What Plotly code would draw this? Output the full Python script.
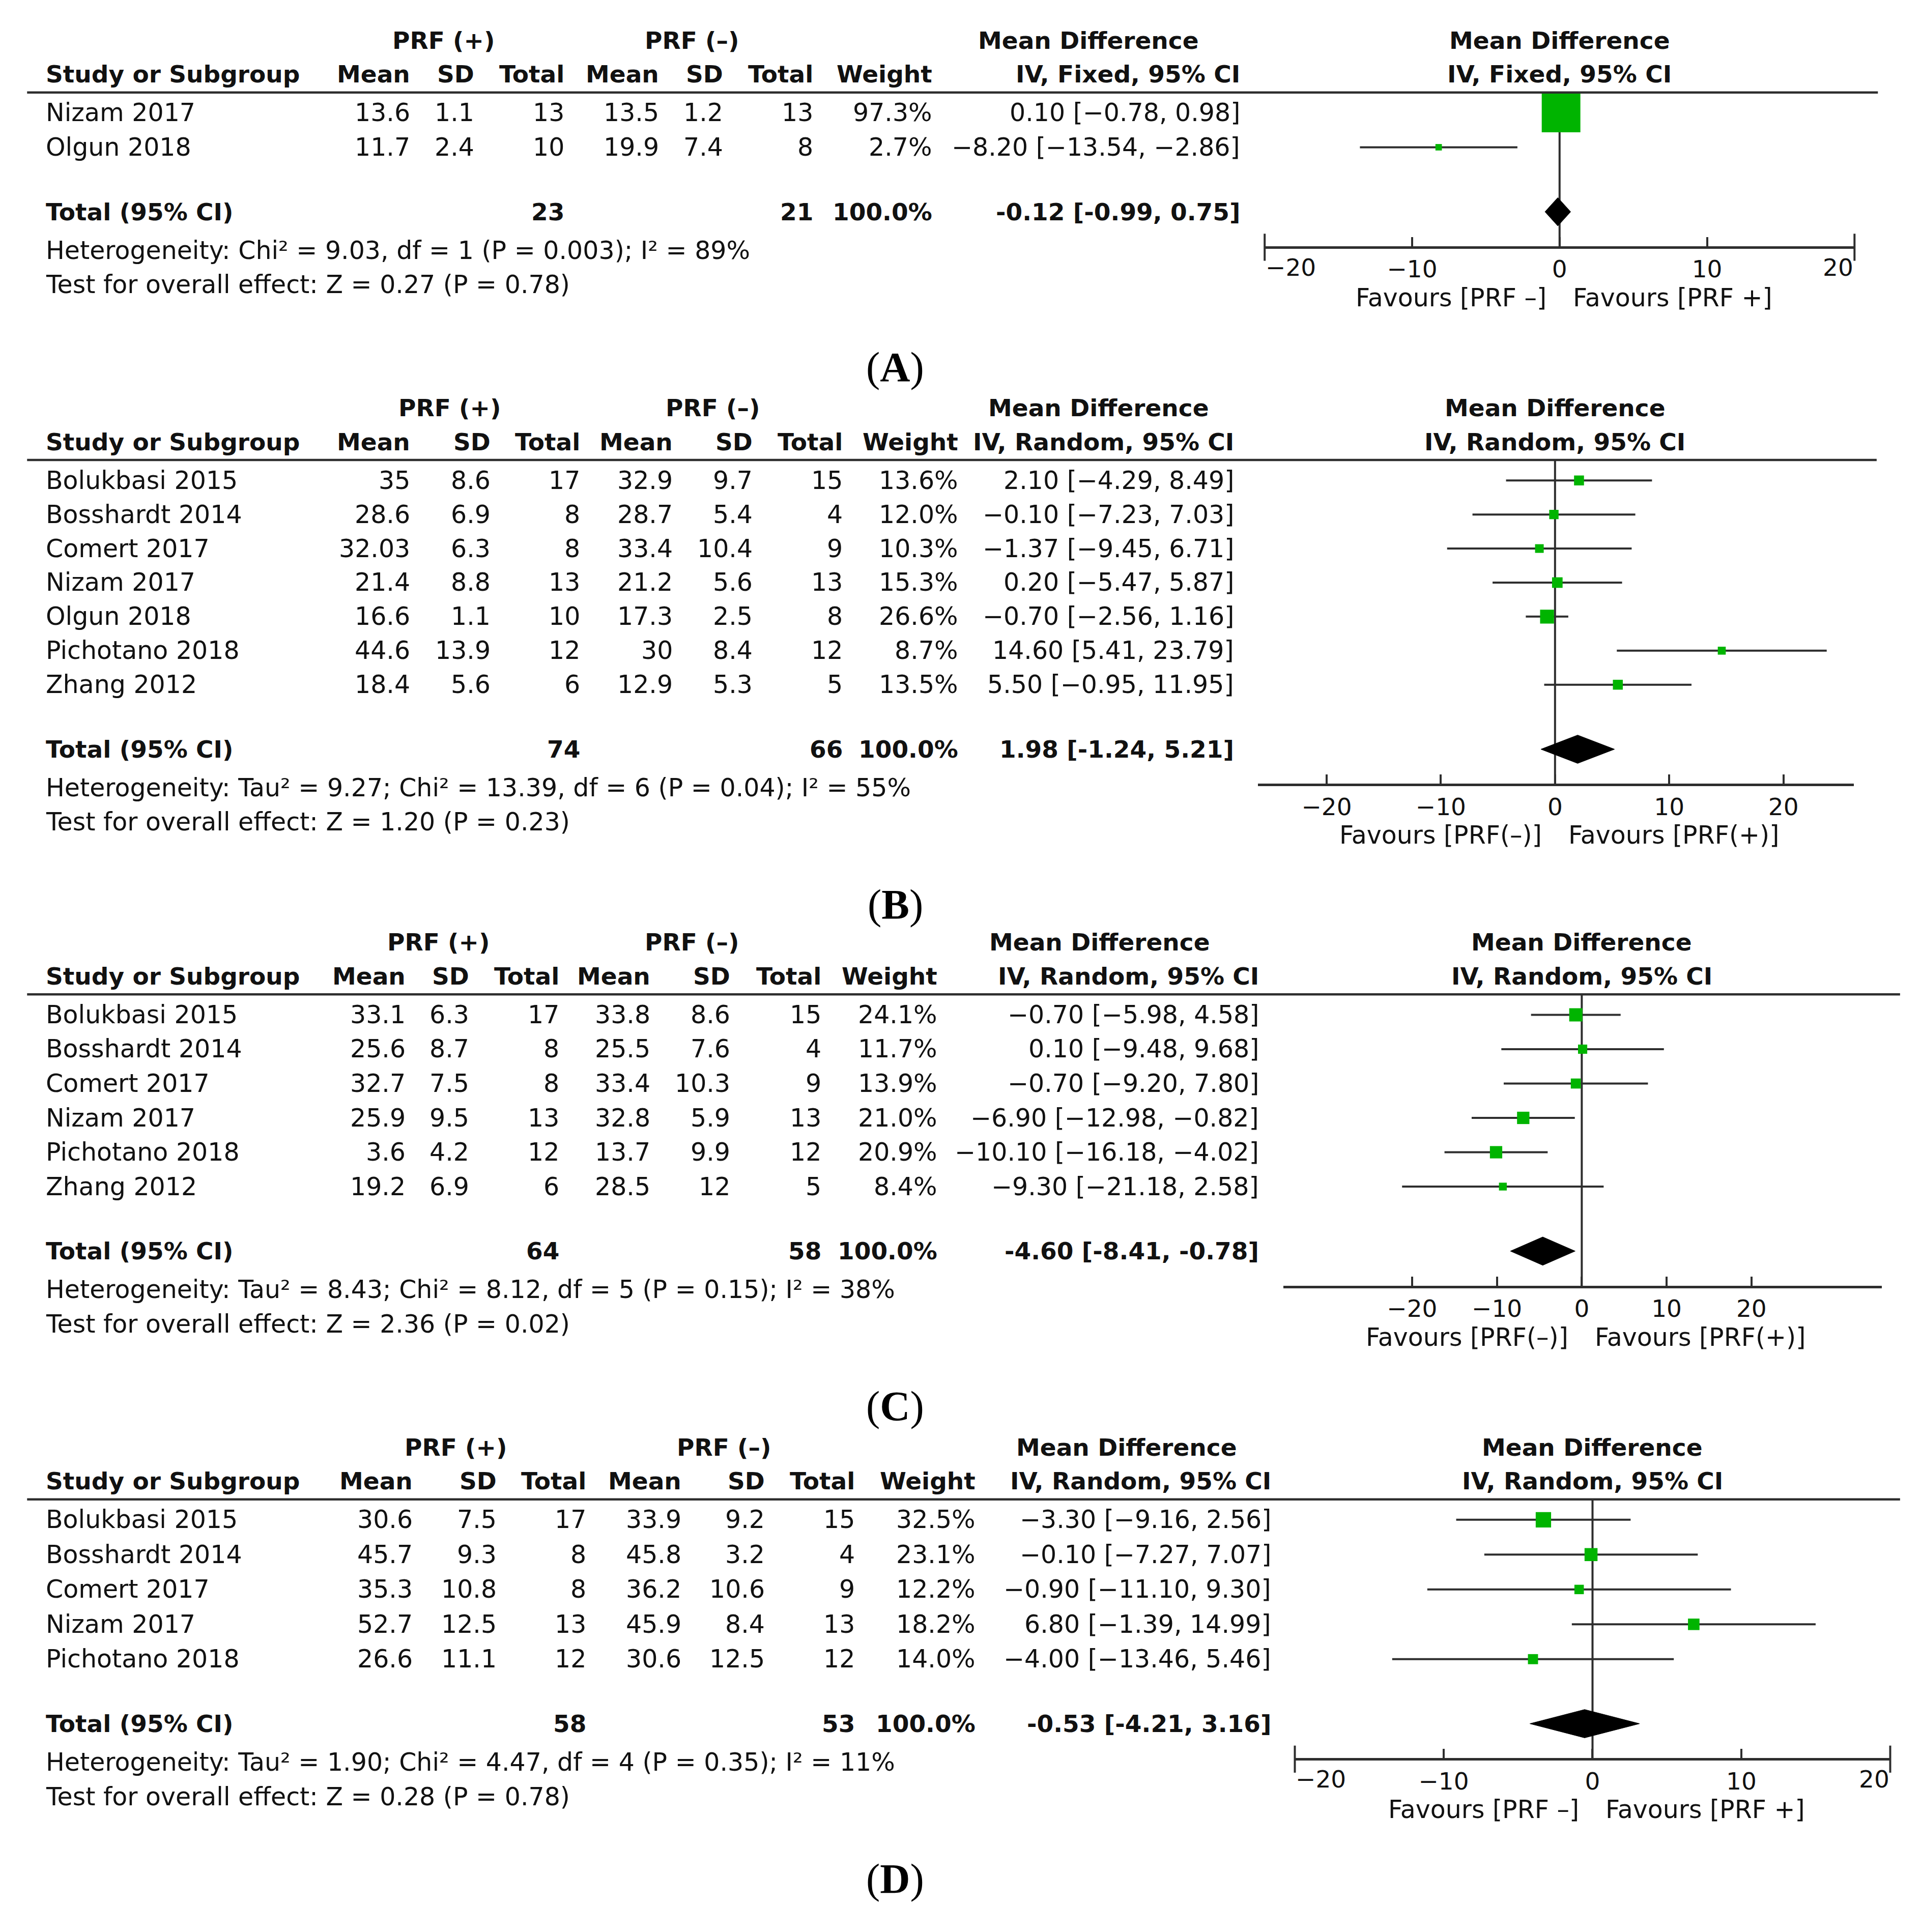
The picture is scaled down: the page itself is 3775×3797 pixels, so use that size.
import plotly.graph_objects as go

# ======================= DATA =======================
# ---- Panel A ----
A_studies = ["Nizam 2017", "Olgun 2018"]
A_mean_p = [13.6, 11.7]
A_sd_p = [1.1, 2.4]
A_n_p = [13, 10]
A_mean_m = [13.5, 19.9]
A_sd_m = [1.2, 7.4]
A_n_m = [13, 8]
A_weight = [97.3, 2.7]
A_md = [0.10, -8.20]
A_lo = [-0.78, -13.54]
A_hi = [0.98, -2.86]
A_tot_n = [23, 21]
A_tot_ci = [-0.12, -0.99, 0.75]
A_method = "IV, Fixed, 95% CI"
A_het = "Heterogeneity: Chi² = 9.03, df = 1 (P = 0.003); I² = 89%"
A_test = "Test for overall effect: Z = 0.27 (P = 0.78)"
A_favours = ["Favours [PRF –]", "Favours [PRF +]"]

# ---- Panel B ----
B_studies = ["Bolukbasi 2015", "Bosshardt 2014", "Comert 2017", "Nizam 2017",
             "Olgun 2018", "Pichotano 2018", "Zhang 2012"]
B_mean_p = [35, 28.6, 32.03, 21.4, 16.6, 44.6, 18.4]
B_sd_p = [8.6, 6.9, 6.3, 8.8, 1.1, 13.9, 5.6]
B_n_p = [17, 8, 8, 13, 10, 12, 6]
B_mean_m = [32.9, 28.7, 33.4, 21.2, 17.3, 30, 12.9]
B_sd_m = [9.7, 5.4, 10.4, 5.6, 2.5, 8.4, 5.3]
B_n_m = [15, 4, 9, 13, 8, 12, 5]
B_weight = [13.6, 12.0, 10.3, 15.3, 26.6, 8.7, 13.5]
B_md = [2.10, -0.10, -1.37, 0.20, -0.70, 14.60, 5.50]
B_lo = [-4.29, -7.23, -9.45, -5.47, -2.56, 5.41, -0.95]
B_hi = [8.49, 7.03, 6.71, 5.87, 1.16, 23.79, 11.95]
B_tot_n = [74, 66]
B_tot_ci = [1.98, -1.24, 5.21]
B_method = "IV, Random, 95% CI"
B_het = "Heterogeneity: Tau² = 9.27; Chi² = 13.39, df = 6 (P = 0.04); I² = 55%"
B_test = "Test for overall effect: Z = 1.20 (P = 0.23)"
B_favours = ["Favours [PRF(–)]", "Favours [PRF(+)]"]

# ---- Panel C ----
C_studies = ["Bolukbasi 2015", "Bosshardt 2014", "Comert 2017", "Nizam 2017",
             "Pichotano 2018", "Zhang 2012"]
C_mean_p = [33.1, 25.6, 32.7, 25.9, 3.6, 19.2]
C_sd_p = [6.3, 8.7, 7.5, 9.5, 4.2, 6.9]
C_n_p = [17, 8, 8, 13, 12, 6]
C_mean_m = [33.8, 25.5, 33.4, 32.8, 13.7, 28.5]
C_sd_m = [8.6, 7.6, 10.3, 5.9, 9.9, 12]
C_n_m = [15, 4, 9, 13, 12, 5]
C_weight = [24.1, 11.7, 13.9, 21.0, 20.9, 8.4]
C_md = [-0.70, 0.10, -0.70, -6.90, -10.10, -9.30]
C_lo = [-5.98, -9.48, -9.20, -12.98, -16.18, -21.18]
C_hi = [4.58, 9.68, 7.80, -0.82, -4.02, 2.58]
C_tot_n = [64, 58]
C_tot_ci = [-4.60, -8.41, -0.78]
C_method = "IV, Random, 95% CI"
C_het = "Heterogeneity: Tau² = 8.43; Chi² = 8.12, df = 5 (P = 0.15); I² = 38%"
C_test = "Test for overall effect: Z = 2.36 (P = 0.02)"
C_favours = ["Favours [PRF(–)]", "Favours [PRF(+)]"]

# ---- Panel D ----
D_studies = ["Bolukbasi 2015", "Bosshardt 2014", "Comert 2017", "Nizam 2017",
             "Pichotano 2018"]
D_mean_p = [30.6, 45.7, 35.3, 52.7, 26.6]
D_sd_p = [7.5, 9.3, 10.8, 12.5, 11.1]
D_n_p = [17, 8, 8, 13, 12]
D_mean_m = [33.9, 45.8, 36.2, 45.9, 30.6]
D_sd_m = [9.2, 3.2, 10.6, 8.4, 12.5]
D_n_m = [15, 4, 9, 13, 12]
D_weight = [32.5, 23.1, 12.2, 18.2, 14.0]
D_md = [-3.30, -0.10, -0.90, 6.80, -4.00]
D_lo = [-9.16, -7.27, -11.10, -1.39, -13.46]
D_hi = [2.56, 7.07, 9.30, 14.99, 5.46]
D_tot_n = [58, 53]
D_tot_ci = [-0.53, -4.21, 3.16]
D_method = "IV, Random, 95% CI"
D_het = "Heterogeneity: Tau² = 1.90; Chi² = 4.47, df = 4 (P = 0.35); I² = 11%"
D_test = "Test for overall effect: Z = 0.28 (P = 0.78)"
D_favours = ["Favours [PRF –]", "Favours [PRF +]"]

group_headers = ["PRF (+)", "PRF (–)"]
col_headers = ["Mean", "SD", "Total", "Mean", "SD", "Total", "Weight"]
tick_vals = [-20, -10, 0, 10, 20]
panel_letters = ["A", "B", "C", "D"]

panels = [
    dict(studies=A_studies, mp=A_mean_p, sp=A_sd_p, np_=A_n_p, mm=A_mean_m, sm=A_sd_m, nm=A_n_m,
         w=A_weight, md=A_md, lo=A_lo, hi=A_hi, tot_n=A_tot_n, tot_ci=A_tot_ci, method=A_method,
         het=A_het, test=A_test, fav=A_favours),
    dict(studies=B_studies, mp=B_mean_p, sp=B_sd_p, np_=B_n_p, mm=B_mean_m, sm=B_sd_m, nm=B_n_m,
         w=B_weight, md=B_md, lo=B_lo, hi=B_hi, tot_n=B_tot_n, tot_ci=B_tot_ci, method=B_method,
         het=B_het, test=B_test, fav=B_favours),
    dict(studies=C_studies, mp=C_mean_p, sp=C_sd_p, np_=C_n_p, mm=C_mean_m, sm=C_sd_m, nm=C_n_m,
         w=C_weight, md=C_md, lo=C_lo, hi=C_hi, tot_n=C_tot_n, tot_ci=C_tot_ci, method=C_method,
         het=C_het, test=C_test, fav=C_favours),
    dict(studies=D_studies, mp=D_mean_p, sp=D_sd_p, np_=D_n_p, mm=D_mean_m, sm=D_sd_m, nm=D_n_m,
         w=D_weight, md=D_md, lo=D_lo, hi=D_hi, tot_n=D_tot_n, tot_ci=D_tot_ci, method=D_method,
         het=D_het, test=D_test, fav=D_favours),
]

# ======================= LAYOUT / STYLE =======================
W, H = 3775, 3797
S = W / 1560.0          # layout measured on a 1560-wide grid
OFF = 8                 # page body margin compensation (px)

def px(xd):
    return (xd * S - OFF) / W

def py(yd):
    return 1 - (yd * S - OFF) / H

styles = [
    dict(r1=91.7, pitch=27.9, cols=[334, 386, 459, 536, 588, 661, 758, 1008], grp=[360, 562, 884],
         axis=(1027, 1506), rng=(-20, 20), line_end=1525, box=7.7, end_labels=True),
    dict(r1=390.2, pitch=27.65, cols=[334, 399, 472, 547, 612, 685, 779, 1003], grp=[365, 579, 892],
         axis=(1021.5, 1505.6), rng=(-26.02, 26.18), line_end=1524, box=5.3, end_labels=False),
    dict(r1=824.2, pitch=27.9, cols=[330, 382, 455, 529, 594, 668, 762, 1023], grp=[356, 562, 893],
         axis=(1042, 1528), rng=(-35.2, 35.34), line_end=1543, box=5.3, end_labels=False),
    dict(r1=1234.3, pitch=28.3, cols=[336, 404, 477, 554, 622, 695, 793, 1033], grp=[370, 588, 915],
         axis=(1051.5, 1535), rng=(-20, 20), line_end=1543, box=5.3, end_labels=True),
]

FONT = "DejaVu Sans"
FS_B = 47     # bold text
FS_R = 49     # regular text
FS_T = 47     # tick labels
TXT = "#111111"
LINE = "#2e2e2e"
GREEN = "#00b400"
STUDY_X = 36.5
LEFT_LINE = 22
MINUS = "\u2212"

def fnum(v):
    return f"{v:g}".replace("-", MINUS)

def fci(md, lo, hi, minus=MINUS):
    return f"{md:.2f} [{lo:.2f}, {hi:.2f}]".replace("-", minus)

fig = go.Figure()
annotations = []
shapes = []
layout_axes = {}

for k, (d, st) in enumerate(zip(panels, styles), start=1):
    xa = "x" if k == 1 else f"x{k}"
    ya = "y" if k == 1 else f"y{k}"
    p = st["pitch"]
    n = len(d["studies"])
    rows = list(range(n))
    total_row = (n - 1) + 52.4 / p
    axis_row = total_row + 28.8 / p
    het_row = total_row + 31.4 / p
    test_row = total_row + 59.3 / p
    fav_row = axis_row + 41.2 / p
    tick_row = axis_row + 16.3 / p
    letter_row = total_row + 126 / p
    grp_row = -59.0 / p
    col_row = -31.4 / p
    line_row = -16.6 / p
    top_val = -2.6
    bot_val = total_row + 4.9

    def ypx(v):
        return st["r1"] + v * p

    tick_text = [f"{v:g}".replace("-", MINUS) for v in tick_vals]
    if st["end_labels"]:
        tick_text = [""] + tick_text[1:-1] + [""]

    layout_axes["xaxis" if k == 1 else f"xaxis{k}"] = dict(
        domain=[px(st["axis"][0]), px(st["axis"][1])], range=list(st["rng"]),
        anchor="free", position=py(ypx(axis_row)), showline=True, linecolor=LINE, linewidth=5,
        ticks="inside", ticklen=18, tickwidth=4, tickcolor=LINE, tickvals=tick_vals, ticktext=tick_text,
        showgrid=False, zeroline=False, tickfont=dict(family=FONT, size=FS_T, color=TXT),
        fixedrange=True)
    layout_axes["yaxis" if k == 1 else f"yaxis{k}"] = dict(
        domain=[py(ypx(bot_val)), py(ypx(top_val))], range=[bot_val, top_val],
        visible=False, fixedrange=True, anchor=xa)

    # zero line
    fig.add_trace(go.Scatter(x=[0, 0], y=[line_row, axis_row], mode="lines",
                             line=dict(color=LINE, width=4), xaxis=xa, yaxis=ya, hoverinfo="skip"))
    # CI lines
    cx, cy = [], []
    for i in rows:
        cx += [d["lo"][i], d["hi"][i], None]
        cy += [i, i, None]
    fig.add_trace(go.Scatter(x=cx, y=cy, mode="lines", line=dict(color=LINE, width=4),
                             xaxis=xa, yaxis=ya, hoverinfo="skip"))
    # boxes
    fig.add_trace(go.Scatter(x=d["md"], y=rows, mode="markers", opacity=1,
                             marker=dict(symbol="square", color=GREEN, opacity=1,
                                         size=[st["box"] * (w ** 0.5) for w in d["w"]],
                                         line=dict(width=0)),
                             xaxis=xa, yaxis=ya, hoverinfo="skip"))
    # diamond
    est, lo, hi = d["tot_ci"]
    hh = 11.5 / p
    fig.add_trace(go.Scatter(x=[lo, est, hi, est, lo],
                             y=[total_row, total_row - hh, total_row, total_row + hh, total_row],
                             mode="lines", fill="toself", fillcolor="#000000", opacity=1,
                             line=dict(color="#000000", width=1), xaxis=xa, yaxis=ya, hoverinfo="skip"))
    # end ticks that cross the axis line (panels with axis ending at +/-20)
    if st["end_labels"]:
        fig.add_trace(go.Scatter(x=[tick_vals[0], tick_vals[-1]], y=[axis_row, axis_row], mode="markers",
                                 cliponaxis=False, opacity=1,
                                 marker=dict(symbol="line-ns", size=38, line=dict(color=LINE, width=4)),
                                 xaxis=xa, yaxis=ya, hoverinfo="skip"))

    def ann(text, x, y, xanchor="right", bold=False, xref="paper", size=None, family=FONT, xshift=0):
        if size is None:
            size = FS_B if bold else FS_R
        annotations.append(dict(text=(f"<b>{text}</b>" if bold else text), x=x, y=y, xref=xref, yref=ya,
                                xanchor=xanchor, yanchor="middle", showarrow=False, xshift=xshift,
                                font=dict(family=family, size=size, color=TXT)))

    cols = st["cols"]
    # headers
    ann(group_headers[0], px(st["grp"][0]), grp_row, "center", True)
    ann(group_headers[1], px(st["grp"][1]), grp_row, "center", True)
    ann("Mean Difference", px(st["grp"][2]), grp_row, "center", True)
    ann("Mean Difference", 0, grp_row, "center", True, xref=xa)
    ann("Study or Subgroup", px(STUDY_X), col_row, "left", True)
    for j, h in enumerate(col_headers):
        ann(h, px(cols[j]), col_row, "right", True)
    ann(d["method"], px(cols[7]), col_row, "right", True)
    ann(d["method"], 0, col_row, "center", True, xref=xa)
    shapes.append(dict(type="line", xref="paper", yref=ya, x0=px(LEFT_LINE), x1=px(st["line_end"]),
                       y0=line_row, y1=line_row, line=dict(color=LINE, width=4.5)))

    # study rows
    for i in rows:
        vals = [fnum(d["mp"][i]), fnum(d["sp"][i]), fnum(d["np_"][i]), fnum(d["mm"][i]),
                fnum(d["sm"][i]), fnum(d["nm"][i]), f"{d['w'][i]:.1f}%",
                fci(d["md"][i], d["lo"][i], d["hi"][i])]
        ann(d["studies"][i], px(STUDY_X), i, "left")
        for j, v in enumerate(vals):
            ann(v, px(cols[j]), i, "right")

    # total row
    ann("Total (95% CI)", px(STUDY_X), total_row, "left", True)
    ann(f"{d['tot_n'][0]:g}", px(cols[2]), total_row, "right", True)
    ann(f"{d['tot_n'][1]:g}", px(cols[5]), total_row, "right", True)
    ann(f"{sum(d['w']):.1f}%", px(cols[6]), total_row, "right", True)
    ann(fci(est, lo, hi, minus="-"), px(cols[7]), total_row, "right", True)
    ann(d["het"], px(STUDY_X), het_row, "left")
    ann(d["test"], px(STUDY_X), test_row, "left")

    # favours
    ann(d["fav"][0], 0, fav_row, "right", xref=xa, xshift=-24)
    ann(d["fav"][1], 0, fav_row, "left", xref=xa, xshift=24)

    # end tick labels kept inside the axis
    if st["end_labels"]:
        ann(tick_text and f"{tick_vals[0]:g}".replace("-", MINUS), tick_vals[0], tick_row, "left",
            xref=xa, size=FS_T)
        ann(f"{tick_vals[-1]:g}", tick_vals[-1], tick_row, "right", xref=xa, size=FS_T)

    # panel letter
    annotations.append(dict(text=f"(<b>{panel_letters[k-1]}</b>)", x=px(727), y=letter_row,
                            xref="paper", yref=ya, xanchor="center", yanchor="middle", showarrow=False,
                            font=dict(family="Liberation Serif", size=82, color="#000000")))

fig.update_layout(width=W, height=H, margin=dict(l=0, r=0, t=0, b=0),
                  paper_bgcolor="white", plot_bgcolor="white", showlegend=False,
                  font=dict(family=FONT, size=FS_R, color=TXT),
                  annotations=annotations, shapes=shapes, **layout_axes)

fig.write_html("out.html")
